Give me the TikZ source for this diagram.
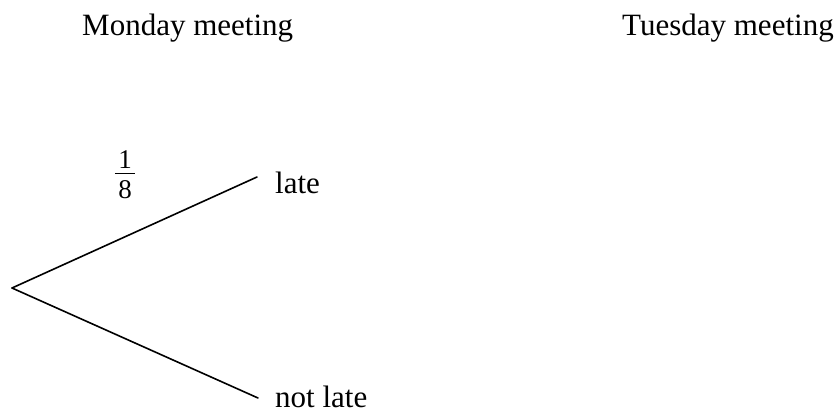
\documentclass[tikz,border=0pt]{standalone}
\usepackage{fontspec}
\setmainfont{Liberation Serif}
\begin{document}
\begin{tikzpicture}[x=1bp,y=1bp,
  lbl/.style={inner sep=0pt,anchor=base west,font=\fontsize{31bp}{37bp}\selectfont},
  branch/.style={line width=1.6bp,line cap=round}]
\useasboundingbox (0,0) rectangle (840,415);
\node[lbl] (mon) at (82,380) {Monday meeting};
\node[lbl] (tue) at (622,380) {Tuesday meeting};
\coordinate (root) at (12,127);
\coordinate (upend) at (257,238);
\coordinate (downend) at (258,17);
\node[lbl] (late) at (275,222) {late};
\node[lbl] (notlate) at (275,8) {not late};
\node[inner sep=0pt,anchor=north,font=\fontsize{27bp}{32bp}\selectfont] (frac) at (125,265)
  {\vbox{\offinterlineskip\halign{\hfil\kern3.5bp#\kern3.5bp\hfil\cr 1\cr
   \noalign{\kern4.5bp\hrule height 1.2bp\kern6.5bp}8\cr}}};
\draw[branch] (root) -- (upend);
\draw[branch] (root) -- (downend);
\end{tikzpicture}
\end{document}
